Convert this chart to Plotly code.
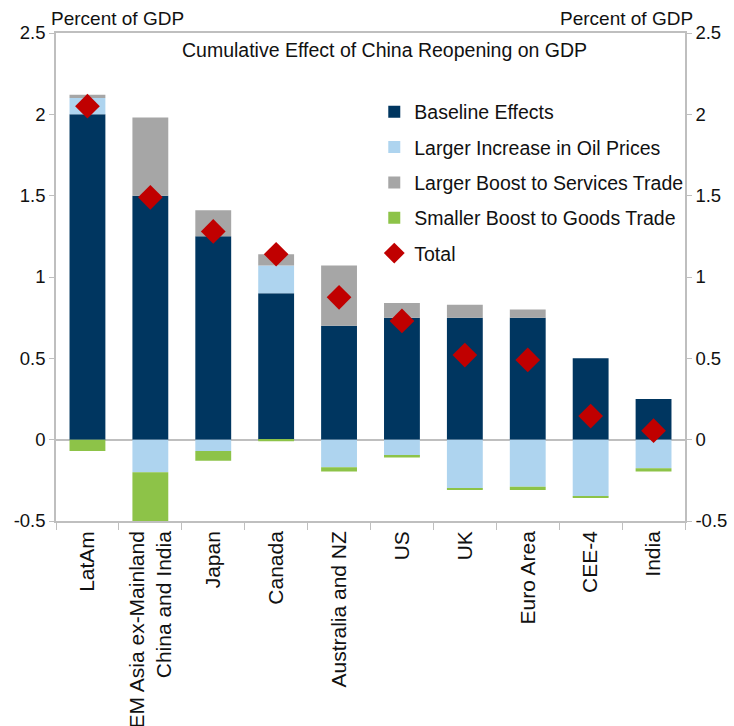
import plotly.graph_objects as go

categories = ["LatAm", "EM Asia ex-Mainland<br>China and India", "Japan", "Canada",
              "Australia and NZ", "US", "UK", "Euro Area", "CEE-4", "India"]
baseline = [2.0, 1.5, 1.25, 0.9, 0.7, 0.75, 0.75, 0.75, 0.5, 0.25]
oil = [0.10, -0.20, -0.07, 0.17, -0.17, -0.10, -0.30, -0.29, -0.35, -0.175]
services = [0.02, 0.48, 0.16, 0.07, 0.37, 0.09, 0.08, 0.05, 0.0, 0.0]
goods = [-0.07, -0.30, -0.06, -0.01, -0.025, -0.01, -0.01, -0.02, -0.005, -0.02]
total = [2.05, 1.49, 1.28, 1.14, 0.875, 0.73, 0.52, 0.49, 0.145, 0.055]

tick_vals = [2.5, 2.0, 1.5, 1.0, 0.5, 0.0, -0.5]
tick_text = ["2.5", "2", "1.5", "1", "0.5", "0", "-0.5"]

FONT = "Liberation Sans, Arial, sans-serif"
AXIS_COLOR = "#BFBFBF"
TXT = "#111111"

fig = go.Figure()
series = [
    ("Baseline Effects", baseline, "#003660"),
    ("Larger Increase in Oil Prices", oil, "#AED4EF"),
    ("Larger Boost to Services Trade", services, "#A6A6A6"),
    ("Smaller Boost to Goods Trade", goods, "#8DC348"),
]
for i, (name, vals, col) in enumerate(series):
    fig.add_trace(go.Bar(x=categories, y=vals, name=name, marker_color=col,
                         marker_line_width=0, width=0.57, legendgroup=f"g{i}"))

fig.add_trace(go.Scatter(x=categories, y=total, name="Total", mode="markers",
                         marker=dict(symbol="diamond", size=19, color="#C00000"),
                         legendgroup="g5"))
# invisible trace for right axis
fig.add_trace(go.Scatter(x=categories, y=total, yaxis="y2", mode="markers",
                         marker=dict(opacity=0), showlegend=False, hoverinfo="skip"))

fig.update_layout(
    width=734, height=726,
    margin=dict(l=56, r=49, t=33, b=205),
    paper_bgcolor="white", plot_bgcolor="white",
    barmode="relative",
    font=dict(family=FONT, size=19, color=TXT),
    showlegend=True,
    legend=dict(x=0.506, y=0.878, xanchor="left", yanchor="top",
                bgcolor="rgba(0,0,0,0)", font=dict(size=19.5, family=FONT, color=TXT),
                tracegroupgap=7, itemwidth=30),
    xaxis=dict(range=[-0.5, len(categories) - 0.5],
               showline=True, linecolor=AXIS_COLOR, linewidth=1.5, mirror=True,
               ticks="outside", tickson="boundaries", ticklen=7, tickcolor=AXIS_COLOR,
               tickangle=-90, tickfont=dict(size=21, family=FONT, color=TXT),
               showgrid=False, automargin=False),
    yaxis=dict(range=[-0.5, 2.5], tickvals=tick_vals, ticktext=tick_text,
               showline=True, linecolor=AXIS_COLOR, linewidth=1.5,
               ticks="outside", ticklen=5, tickcolor=AXIS_COLOR,
               showgrid=False, zeroline=True, zerolinecolor=AXIS_COLOR, zerolinewidth=1.5,
               tickfont=dict(size=18.5, family=FONT, color=TXT), automargin=False),
    yaxis2=dict(range=[-0.5, 2.5], tickvals=tick_vals, ticktext=tick_text,
                overlaying="y", side="right",
                showline=True, linecolor=AXIS_COLOR, linewidth=1.5,
                ticks="outside", ticklen=5, tickcolor=AXIS_COLOR,
                showgrid=False, zeroline=False,
                tickfont=dict(size=18.5, family=FONT, color=TXT), automargin=False),
)

fig.add_annotation(text="Cumulative Effect of China Reopening on GDP",
                   xref="paper", yref="paper", x=0.523, y=0.965, yanchor="middle",
                   showarrow=False, font=dict(size=19.5, family=FONT, color=TXT))
fig.add_annotation(text="Percent of GDP", xref="paper", yref="paper",
                   x=-0.011, y=1.0, xanchor="left", yanchor="bottom", yshift=2,
                   showarrow=False, font=dict(size=19, family=FONT, color=TXT))
fig.add_annotation(text="Percent of GDP", xref="paper", yref="paper",
                   x=1.016, y=1.0, xanchor="right", yanchor="bottom", yshift=2,
                   showarrow=False, font=dict(size=19, family=FONT, color=TXT))

fig.write_html("out.html")
